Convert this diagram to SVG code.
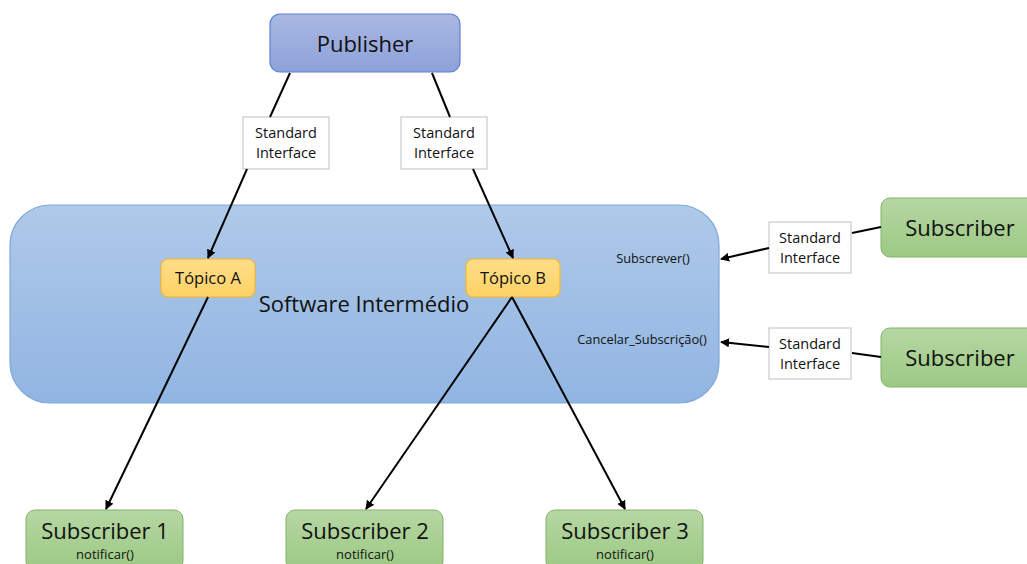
<svg xmlns="http://www.w3.org/2000/svg" width="1027" height="564" viewBox="0 0 1027 564">
<defs>
<linearGradient id="gPub" x1="0" y1="0" x2="0" y2="1"><stop offset="0" stop-color="#aab8e2"/><stop offset="1" stop-color="#8da2da"/></linearGradient>
<linearGradient id="gMain" x1="0" y1="0" x2="0" y2="1"><stop offset="0" stop-color="#afc9e9"/><stop offset="1" stop-color="#91b5e2"/></linearGradient>
<linearGradient id="gTop" x1="0" y1="0" x2="0" y2="1"><stop offset="0" stop-color="#ffdd88"/><stop offset="1" stop-color="#ffd266"/></linearGradient>
<linearGradient id="gSub" x1="0" y1="0" x2="0" y2="1"><stop offset="0" stop-color="#b6d7a3"/><stop offset="1" stop-color="#9cc984"/></linearGradient>
<marker id="arr" viewBox="0 0 10 10" refX="9" refY="5" markerWidth="9" markerHeight="9" markerUnits="userSpaceOnUse" orient="auto"><path d="M0,0 L10,5 L0,10 Z" fill="#000"/></marker>
</defs>
<style>
.t{font-family:"Open Sans","Liberation Sans",sans-serif;fill:#111;text-anchor:middle}
.si{fill:#fff;stroke:#bfbfbf;stroke-width:1}
.sub{fill:url(#gSub);stroke:#82b366;stroke-width:1}
.topic{fill:url(#gTop);stroke:#f2b82e;stroke-width:1.2}
.c{stroke:#000;stroke-width:2;fill:none}
.ca{stroke:#000;stroke-width:2;fill:none;marker-end:url(#arr)}
</style>
<rect width="1027" height="564" fill="#fff"/>
<g id="main">
<rect x="10" y="205" width="709" height="198" rx="40" fill="url(#gMain)" stroke="#7fa7d9" stroke-width="1.2"/>
<text class="t" x="364" y="312" font-size="22">Software Intermédio</text>
<text class="t" x="653" y="263" font-size="12.8">Subscrever()</text>
<text class="t" x="642" y="344" font-size="12.8">Cancelar_Subscrição()</text>
</g>
<g id="publisher">
<rect x="270" y="14" width="190" height="58" rx="10" fill="url(#gPub)" stroke="#5b80d0" stroke-width="1.2"/>
<text class="t" x="365" y="52" font-size="22">Publisher</text>
</g>
<g id="topicoA">
<rect x="161" y="259" width="94" height="38" rx="7" class="topic"/>
<text class="t" x="208" y="284" font-size="16.5">Tópico A</text>
</g>
<g id="topicoB">
<rect x="466" y="259" width="94" height="38" rx="7" class="topic"/>
<text class="t" x="513" y="284" font-size="16.5">Tópico B</text>
</g>
<g id="si1">
<rect x="243" y="117" width="86" height="52" class="si"/>
<text class="t" x="286" y="138" font-size="14.5">Standard</text>
<text class="t" x="286" y="158" font-size="14.5">Interface</text>
</g>
<g id="si2">
<rect x="401" y="117" width="86" height="52" class="si"/>
<text class="t" x="444" y="138" font-size="14.5">Standard</text>
<text class="t" x="444" y="158" font-size="14.5">Interface</text>
</g>
<g id="si3">
<rect x="769" y="222" width="82" height="51" class="si"/>
<text class="t" x="810" y="243" font-size="14.5">Standard</text>
<text class="t" x="810" y="263" font-size="14.5">Interface</text>
</g>
<g id="si4">
<rect x="769" y="328" width="82" height="51" class="si"/>
<text class="t" x="810" y="349" font-size="14.5">Standard</text>
<text class="t" x="810" y="369" font-size="14.5">Interface</text>
</g>
<g id="subR1">
<rect x="881" y="198" width="160" height="59" rx="9" class="sub"/>
<text class="t" x="960" y="236" font-size="22">Subscriber</text>
</g>
<g id="subR2">
<rect x="881" y="328" width="160" height="59" rx="9" class="sub"/>
<text class="t" x="960" y="366" font-size="22">Subscriber</text>
</g>
<g id="sub1">
<rect x="26" y="510" width="157" height="60" rx="9" class="sub"/>
<text class="t" x="105" y="539" font-size="22">Subscriber 1</text>
<text class="t" x="105" y="559" font-size="13">notificar()</text>
</g>
<g id="sub2">
<rect x="286" y="510" width="157" height="60" rx="9" class="sub"/>
<text class="t" x="365" y="539" font-size="22">Subscriber 2</text>
<text class="t" x="365" y="559" font-size="13">notificar()</text>
</g>
<g id="sub3">
<rect x="546" y="510" width="157" height="60" rx="9" class="sub"/>
<text class="t" x="625" y="539" font-size="22">Subscriber 3</text>
<text class="t" x="625" y="559" font-size="13">notificar()</text>
</g>
<g id="connectors">
<line class="c" x1="290" y1="73" x2="270" y2="117"/>
<line class="ca" x1="247" y1="169" x2="208" y2="258"/>
<line class="c" x1="432" y1="73" x2="450" y2="117"/>
<line class="ca" x1="473" y1="169" x2="513" y2="258"/>
<line class="ca" x1="208" y1="297" x2="106" y2="509"/>
<line class="ca" x1="512" y1="297" x2="366" y2="509"/>
<line class="ca" x1="512" y1="297" x2="625" y2="509"/>
<line class="c" x1="881" y1="227" x2="852" y2="233"/>
<line class="ca" x1="769" y1="248" x2="721" y2="259"/>
<line class="c" x1="881" y1="357" x2="852" y2="353"/>
<line class="ca" x1="769" y1="347" x2="721" y2="342"/>
</g>
</svg>
